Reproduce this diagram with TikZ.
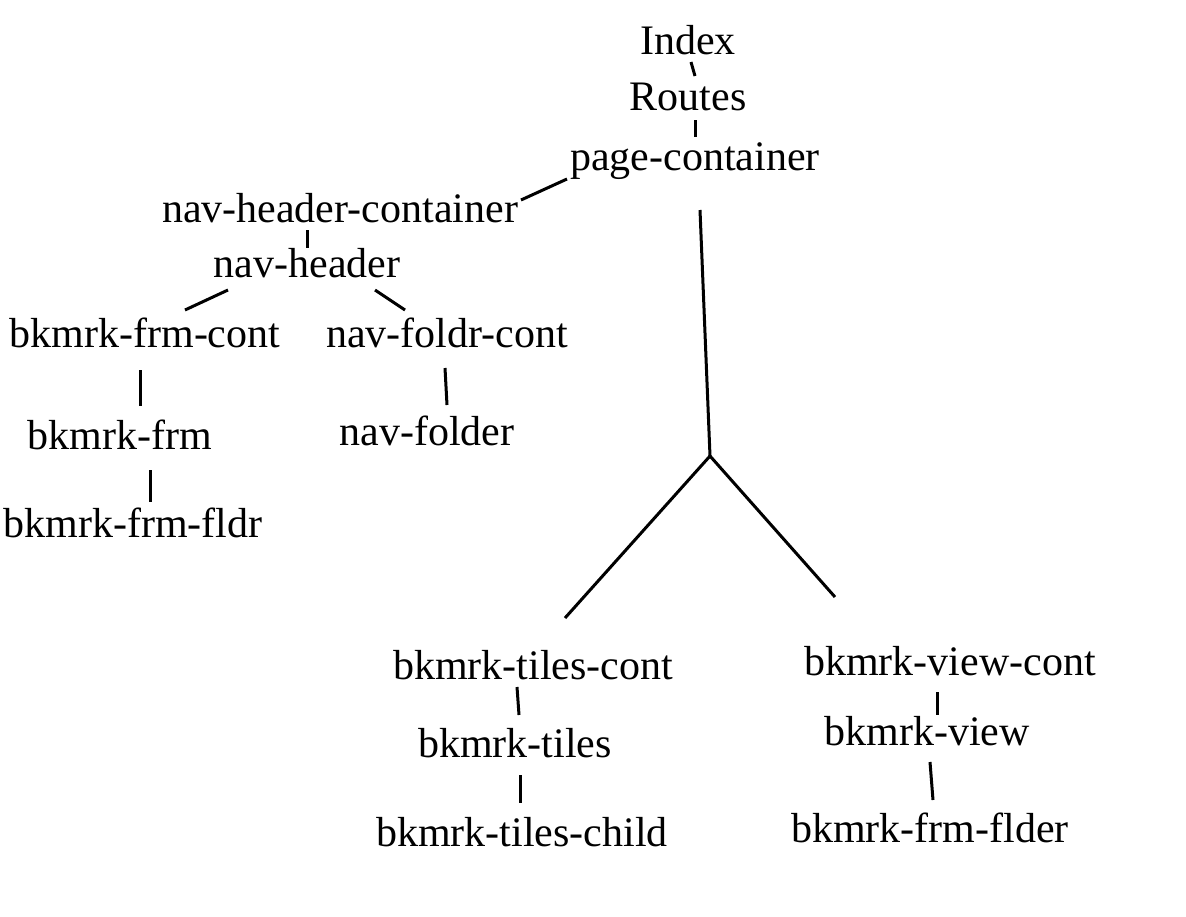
\documentclass[tikz,border=0pt]{standalone}
\usepackage{fontspec}
\setmainfont{Liberation Serif}
\usetikzlibrary{positioning}
\usetikzlibrary{calc}

\begin{document}
\begin{tikzpicture}[x=1pt, y=-1pt,
	lbl/.style={anchor=base, inner sep=0pt, font=\fontsize{42}{50}\selectfont},
	edge/.style={line width=3pt}]
	\useasboundingbox (0,0) rectangle (1186,916);
	%top of the tree
	\node[lbl] (idx) at (688,54) {Index};
	\node[lbl] (rts) at (688,110) {Routes};
	\node[lbl] (pgc) at (695,170) {page-container};
	%header side
	\node[lbl] (nhc) at (340,222) {nav-header-container};
	\node[lbl] (nh) at (307,277) {nav-header};
	\node[lbl] (bfc) at (145,347) {bkmrk-frm-cont};
	\node[lbl] (nfc) at (447,347) {nav-foldr-cont};
	\node[lbl] (bf) at (120,449) {bkmrk-frm};
	\node[lbl] (nf) at (427,445) {nav-folder};
	\node[lbl] (bff) at (133,537) {bkmrk-frm-fldr};
	%tiles and view side
	\coordinate (fork) at (710,456);
	\node[lbl] (btc) at (533,679) {bkmrk-tiles-cont};
	\node[lbl] (bt) at (515,757) {bkmrk-tiles};
	\node[lbl] (btch) at (522,846) {bkmrk-tiles-child};
	\node[lbl] (bvc) at (950,675) {bkmrk-view-cont};
	\node[lbl] (bv) at (927,745) {bkmrk-view};
	\node[lbl] (bfd) at (930,842) {bkmrk-frm-flder};
	%connectors
	\draw[edge] ([shift={(3,8)}]idx.base) -- ([shift={(7,-34)}]rts.base);
	\draw[edge] ([shift={(7,10)}]rts.base) -- ([shift={(0,-33)}]pgc.base);
	\draw[edge] ([shift={(-128,9)}]pgc.base) -- ([shift={(181,-22)}]nhc.base);
	\draw[edge] ([shift={(-33,8)}]nhc.base) -- ([shift={(0,-29)}]nh.base);
	\draw[edge] ([shift={(-79,13)}]nh.base) -- ([shift={(40,-37)}]bfc.base);
	\draw[edge] ([shift={(68,13)}]nh.base) -- ([shift={(-42,-37)}]nfc.base);
	\draw[edge] ([shift={(-5,23)}]bfc.base) -- ([shift={(20,-43)}]bf.base);
	\draw[edge] ([shift={(-2,21)}]nfc.base) -- ([shift={(20,-40)}]nf.base);
	\draw[edge] ([shift={(30,21)}]bf.base) -- ([shift={(17,-35)}]bff.base);
	\draw[edge] ([shift={(5,40)}]pgc.base) -- (fork);
	\draw[edge] (fork) -- ([shift={(32,-61)}]btc.base);
	\draw[edge] (fork) -- ([shift={(-115,-78)}]bvc.base);
	\draw[edge] ([shift={(-16,8)}]btc.base) -- ([shift={(4,-42)}]bt.base);
	\draw[edge] ([shift={(5,18)}]bt.base) -- ([shift={(-2,-43)}]btch.base);
	\draw[edge] ([shift={(-13,17)}]bvc.base) -- ([shift={(10,-30)}]bv.base);
	\draw[edge] ([shift={(3,17)}]bv.base) -- ([shift={(3,-42)}]bfd.base);
\end{tikzpicture}
\end{document}
